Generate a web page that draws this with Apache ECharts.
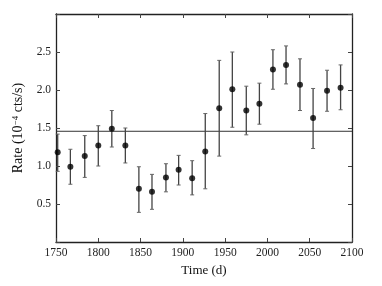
<!DOCTYPE html>
<html><head><meta charset="utf-8">
<script src="https://cdn.jsdelivr.net/npm/echarts@6/dist/echarts.min.js"></script>
<style>html,body{margin:0;padding:0;background:#fff}#c{width:382px;height:286px}</style>
</head><body><div id="c"></div>
<script>
const times = [1752, 1767, 1784, 1800, 1816, 1832, 1848, 1863.5, 1880, 1895, 1911, 1926.5, 1943, 1958.5, 1975, 1990.5, 2006.5, 2022, 2038.5, 2054, 2070.5, 2086.5];
const rates = [1.18, 0.99, 1.13, 1.27, 1.49, 1.27, 0.70, 0.66, 0.85, 0.95, 0.84, 1.19, 1.76, 2.01, 1.73, 1.82, 2.27, 2.33, 2.07, 1.63, 1.99, 2.03];
const errHigh = [1.42, 1.22, 1.40, 1.53, 1.73, 1.50, 0.99, 0.89, 1.03, 1.14, 1.07, 1.69, 2.39, 2.50, 2.05, 2.09, 2.53, 2.58, 2.41, 2.02, 2.26, 2.33];
const errLow  = [0.93, 0.76, 0.85, 1.00, 1.25, 1.04, 0.39, 0.43, 0.66, 0.75, 0.62, 0.70, 1.13, 1.51, 1.41, 1.55, 2.01, 2.08, 1.73, 1.23, 1.72, 1.74];
const meanRate = 1.457;
const xTicks = [1750, 1800, 1850, 1900, 1950, 2000, 2050, 2100];
const yTicks = [0.5, 1.0, 1.5, 2.0, 2.5];

const font = 'Liberation Serif';
const chart = echarts.init(document.getElementById('c'));
const pts = times.map((t, i) => [t, rates[i]]);
const errs = times.map((t, i) => [t, errLow[i], errHigh[i]]);
const axisCommon = {
  axisLine: {show: true, onZero: false, lineStyle: {color: '#222', width: 1.3}},
  axisTick: {show: true, inside: true, length: 4, lineStyle: {color: '#444', width: 1}},
  splitLine: {show: false}
};
chart.setOption({
  animation: false,
  grid: {left: 56, right: 30, top: 14, bottom: 44},
  xAxis: [
    Object.assign({type: 'value', min: 1750, max: 2100, interval: 50, position: 'bottom',
      name: 'Time (d)', nameLocation: 'middle', nameGap: 18,
      nameTextStyle: {fontFamily: font, fontSize: 13, color: '#111'},
      axisLabel: {fontFamily: font, fontSize: 11.5, color: '#222', margin: 5,
        formatter: v => xTicks.includes(v) ? String(v) : ''}}, axisCommon),
    Object.assign({type: 'value', min: 1750, max: 2100, interval: 50, position: 'top',
      axisLabel: {show: false}}, axisCommon)
  ],
  yAxis: [
    Object.assign({type: 'value', min: 0, max: 3, interval: 0.5, position: 'left',
      name: '{r|Rate (10}{s|−4}{r| cts/s)}', nameLocation: 'middle', nameGap: 23,
      nameTextStyle: {rich: {
        r: {fontFamily: font, fontSize: 14, color: '#111'},
        s: {fontFamily: font, fontSize: 9, color: '#111', verticalAlign: 'top', padding: [0, 0, 7, 0]}}},
      axisLabel: {fontFamily: font, fontSize: 11.5, color: '#222', margin: 5,
        formatter: v => yTicks.some(t => Math.abs(t - v) < 1e-9) ? v.toFixed(1) : ''}}, axisCommon),
    Object.assign({type: 'value', min: 0, max: 3, interval: 0.5, position: 'right',
      axisLabel: {show: false}}, axisCommon)
  ],
  series: [
    {
      type: 'line', data: [[1750, meanRate], [2100, meanRate]], symbol: 'none',
      lineStyle: {color: '#333', width: 1}, z: 1
    },
    {
      type: 'custom', data: errs, z: 2,
      renderItem: (params, api) => {
        const x = api.value(0);
        const lo = api.coord([x, api.value(1)]);
        const hi = api.coord([x, api.value(2)]);
        const cap = 2;
        const style = {stroke: '#444', lineWidth: 1.3};
        return {type: 'group', children: [
          {type: 'line', shape: {x1: lo[0], y1: lo[1], x2: hi[0], y2: hi[1]}, style},
          {type: 'line', shape: {x1: lo[0] - cap, y1: lo[1], x2: lo[0] + cap, y2: lo[1]}, style: {stroke: '#666', lineWidth: 1}},
          {type: 'line', shape: {x1: hi[0] - cap, y1: hi[1], x2: hi[0] + cap, y2: hi[1]}, style: {stroke: '#666', lineWidth: 1}}
        ]};
      }
    },
    {
      type: 'scatter', data: pts, symbol: 'circle', symbolSize: 6,
      itemStyle: {color: '#000'}, z: 3
    }
  ]
});
</script></body></html>
